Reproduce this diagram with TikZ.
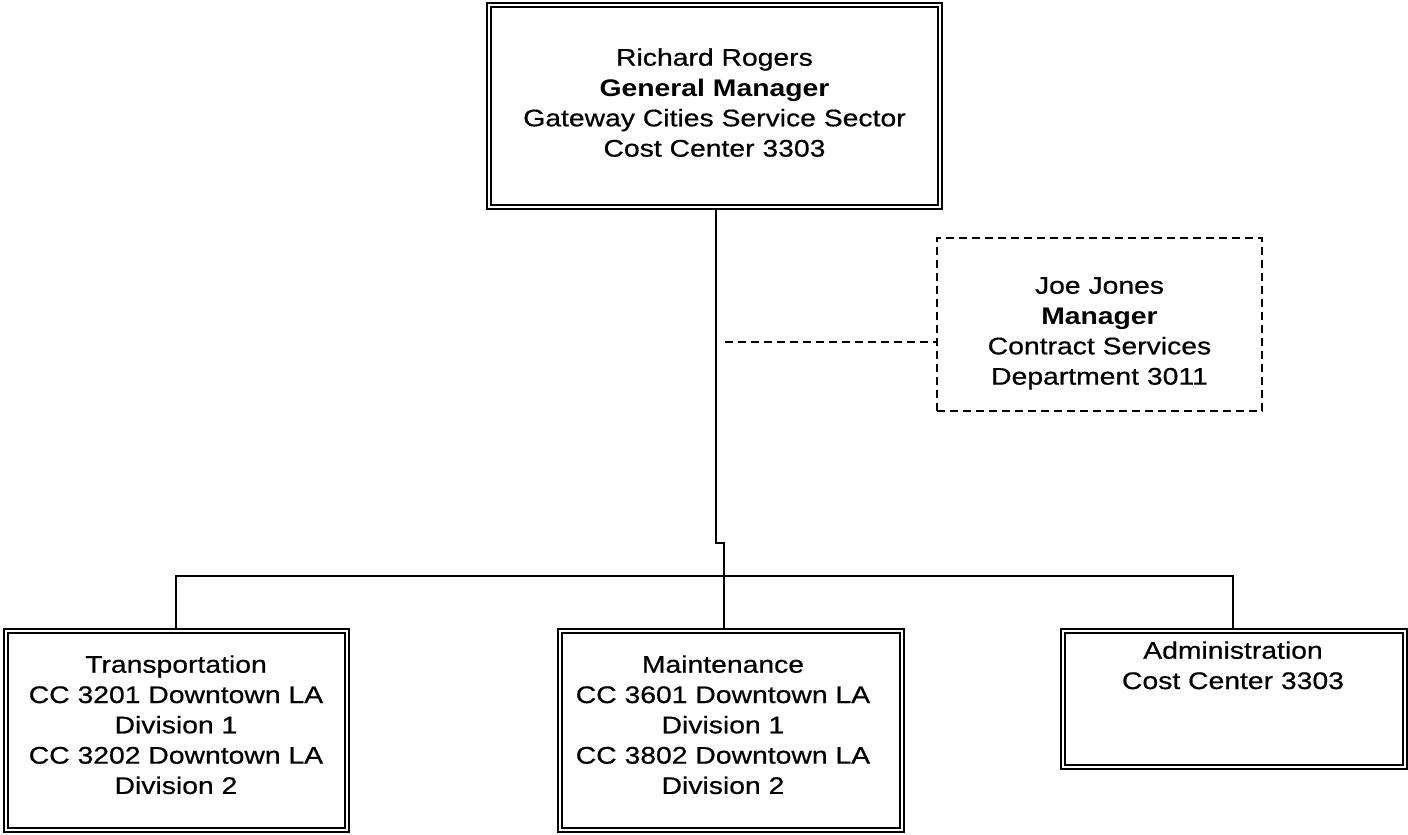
\documentclass[tikz,border=0pt]{standalone}
\usepackage{fontspec}
\setmainfont{Liberation Sans}[FakeStretch=1.18, UprightFeatures={FakeBold=0.6}]
\begin{document}
\begin{tikzpicture}[x=1pt,y=-1pt,
  dbl/.style={draw, double, double distance=2.6pt, line width=1.6pt, rectangle, inner sep=0pt},
  dsh/.style={draw, dash pattern=on 8pt off 5pt, line width=1.5pt, rectangle, inner sep=0pt},
  txt/.style={align=center, inner sep=0pt, anchor=north, font=\fontsize{24}{30.3}\selectfont},
  link/.style={line width=1.8pt},
  dlink/.style={line width=1.5pt, dash pattern=on 8pt off 5pt}]
\useasboundingbox (0,0) rectangle (1408,835);

% boxes
\node[dbl, minimum width=451pt, minimum height=202pt] (gm) at (714.5,106) {};
\node[txt] (gmt) at (714.5,44.3) {\strut Richard Rogers\\\textbf{General Manager}\\Gateway Cities Service Sector\\Cost Center 3303};

\node[dsh, minimum width=325pt, minimum height=173pt] (jj) at (1099.5,324.5) {};
\node[txt] (jjt) at (1099.5,272.3) {\strut Joe Jones\\\textbf{Manager}\\Contract Services\\Department 3011};

\node[dbl, minimum width=341pt, minimum height=199pt] (tr) at (176.5,730.5) {};
\node[txt] (trt) at (176,651.3) {\strut Transportation\\CC 3201 Downtown LA\\Division 1\\CC 3202 Downtown LA\\Division 2};

\node[dbl, minimum width=342pt, minimum height=199pt] (mt) at (731,730.5) {};
\node[txt] (mtt) at (723,651.3) {\strut Maintenance\\CC 3601 Downtown LA\\Division 1\\CC 3802 Downtown LA\\Division 2};

\node[dbl, minimum width=342pt, minimum height=136pt] (ad) at (1234,699) {};
\node[txt] (adt) at (1233,637.3) {\strut Administration\\Cost Center 3303};

% connector points
\coordinate (tk1) at (716,543);
\coordinate (tk2) at (724,543);
\coordinate (bl) at (176,576);
\coordinate (br) at (1233,576);
\coordinate (dj) at (725,342);

% connectors
\draw[link] (gm.south -| tk1) -- (tk1) -- (tk2) -- (tk2 |- mt.north);
\draw[link] (tr.north -| bl) -- (bl) -- (br) -- (ad.north -| br);
\draw[dlink] (dj) -- (dj -| jj.west);
\end{tikzpicture}
\end{document}
